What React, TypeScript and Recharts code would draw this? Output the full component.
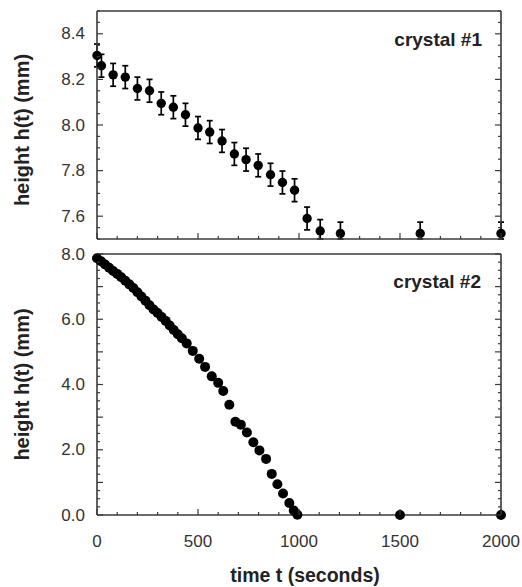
import React from 'react';
import { ScatterChart, Scatter, XAxis, YAxis, ErrorBar, Label } from 'recharts';

// ---- crystal #1 (top panel) ----
const c1Time = [0, 22, 80, 140, 200, 260, 318, 378, 438, 500, 558, 619, 680, 738, 798, 859, 918, 978, 1040, 1105, 1205, 1600, 2000];
const c1Height = [8.305, 8.26, 8.22, 8.21, 8.16, 8.15, 8.095, 8.078, 8.045, 7.987, 7.969, 7.93, 7.873, 7.848, 7.823, 7.782, 7.748, 7.714, 7.59, 7.535, 7.524, 7.524, 7.524];
const c1ErrLow = [0.05, 0.05, 0.05, 0.05, 0.05, 0.05, 0.05, 0.05, 0.05, 0.05, 0.05, 0.05, 0.05, 0.05, 0.05, 0.05, 0.05, 0.05, 0.05, 0.035, 0.024, 0.024, 0.024];
const c1ErrHigh = [0.05, 0.05, 0.05, 0.05, 0.05, 0.05, 0.05, 0.05, 0.05, 0.05, 0.05, 0.05, 0.05, 0.05, 0.05, 0.05, 0.05, 0.05, 0.05, 0.05, 0.05, 0.05, 0.05];

// ---- crystal #2 (bottom panel) ----
const c2Time = [0, 20, 40, 60, 80, 100, 120, 140, 160, 180, 200, 220, 240, 260, 280, 300, 320, 340, 360, 380, 400, 420, 444, 474, 506, 535, 568, 600, 625, 655, 685, 712, 742, 774, 804, 837, 865, 893, 921, 952, 974, 992, 1500, 2000];
const c2Height = [7.87, 7.78, 7.68, 7.58, 7.48, 7.39, 7.29, 7.18, 7.07, 6.96, 6.83, 6.7, 6.57, 6.43, 6.3, 6.19, 6.07, 5.95, 5.81, 5.67, 5.54, 5.42, 5.26, 5.03, 4.79, 4.54, 4.25, 4.05, 3.8, 3.38, 2.86, 2.77, 2.53, 2.23, 1.98, 1.72, 1.26, 0.94, 0.66, 0.37, 0.14, 0.01, 0, 0];

// ---- ticks ----
const xTickLabels = [0, 500, 1000, 1500, 2000];
const y1TickLabels = [7.6, 7.8, 8.0, 8.2, 8.4];
const y2TickLabels = [0, 2, 4, 6, 8];

const range = (a: number, b: number, s: number) => {
  const out: number[] = [];
  const n = Math.round((b - a) / s);
  for (let i = 0; i <= n; i++) out.push(Math.round((a + i * s) * 1000) / 1000);
  return out;
};
const xMinor = range(0, 2000, 100);
const y1Minor = range(7.5, 8.5, 0.05);
const y2Minor = range(0, 8, 0.25);
const y2Major = range(0, 8, 1);

const data1 = c1Time.map((t, i) => ({ t, h: c1Height[i], err: [c1ErrLow[i], c1ErrHigh[i]] }));
const data2 = c2Time.map((t, i) => ({ t, h: c2Height[i] }));

const FRAME = '#3a3a3a';
const FONT = '"Liberation Sans", Arial, Helvetica, sans-serif';
const TICK_COLOR = '#333';

const isIn = (v: number, arr: number[]) => arr.some((a) => Math.abs(a - v) < 1e-6);

function makeTick(side: 'bottom' | 'top' | 'left' | 'right', majors: number[], labels: number[] | null, fmt: (v: number) => string) {
  return (props: any) => {
    const { x, y, payload } = props;
    const v = payload.value;
    const len = isIn(v, majors) ? 6 : 3;
    let x2 = x, y2 = y;
    if (side === 'bottom') y2 = y - len;
    if (side === 'top') y2 = y + len;
    if (side === 'left') x2 = x + len;
    if (side === 'right') x2 = x - len;
    let label = null;
    if (labels && isIn(v, labels)) {
      if (side === 'bottom') {
        label = (
          <text x={x} y={y + 26} textAnchor="middle" dominantBaseline="central" fontSize={17} fill={TICK_COLOR} fontFamily={FONT}>
            {fmt(v)}
          </text>
        );
      } else if (side === 'left') {
        label = (
          <text x={x - 12} y={y} textAnchor="end" dominantBaseline="central" fontSize={17} fill={TICK_COLOR} fontFamily={FONT}>
            {fmt(v)}
          </text>
        );
      }
    }
    return (
      <g>
        <line x1={x} y1={y} x2={x2} y2={y2} stroke={FRAME} strokeWidth={1.2} />
        {label}
      </g>
    );
  };
}

const axisLine = { stroke: FRAME, strokeWidth: 1.6 };

const Dot1 = (p: any) => <circle cx={p.cx} cy={p.cy} r={4.7} fill="#000" />;
const Dot2 = (p: any) => <circle cx={p.cx} cy={p.cy} r={5} fill="#000" />;

const yTitle = (cy: number) => (props: any) => (
  <text
    x={22}
    y={cy}
    transform={`rotate(-90, 22, ${cy})`}
    textAnchor="middle"
    dominantBaseline="central"
    fontSize={20}
    fontWeight="bold"
    fill="#222"
    fontFamily={FONT}
  >
    height h(t) (mm)
  </text>
);

const panelTitle = (text: string, x: number, y: number) => (props: any) => (
  <text x={x} y={y} textAnchor="end" fontSize={19} fontWeight="bold" fill="#222" fontFamily={FONT}>
    {text}
  </text>
);

const xTitle = (props: any) => (
  <text x={305} y={325} textAnchor="middle" dominantBaseline="central" fontSize={19.5} fontWeight="bold" fill="#222" fontFamily={FONT}>
    time t (seconds)
  </text>
);

export default function App() {
  return (
    <div style={{ position: 'absolute', left: 0, top: 0, width: 522, height: 587, background: '#fff' }}>
      <style>{`svg { overflow: visible; }`}</style>
      <div style={{ position: 'absolute', left: 0, top: 0 }}>
        <ScatterChart width={522} height={250} margin={{ top: 0, right: 0, bottom: 0, left: 0 }}>
          <XAxis
            xAxisId="b"
            dataKey="t"
            type="number"
            domain={[0, 2000]}
            ticks={xMinor}
            interval={0}
            height={11}
            tickSize={0}
            tickMargin={0}
            tickLine={false}
            axisLine={axisLine}
            tick={makeTick('bottom', xTickLabels, null, (v) => String(v))}
          />
          <XAxis
            xAxisId="t"
            orientation="top"
            type="number"
            domain={[0, 2000]}
            allowDataOverflow
            ticks={xMinor}
            interval={0}
            height={11}
            tickSize={0}
            tickMargin={0}
            tickLine={false}
            axisLine={axisLine}
            tick={makeTick('top', xTickLabels, null, (v) => String(v))}
          />
          <YAxis
            yAxisId="l"
            dataKey="h"
            type="number"
            domain={[7.5, 8.5]}
            ticks={y1Minor}
            interval={0}
            width={97}
            tickSize={0}
            tickMargin={0}
            tickLine={false}
            axisLine={axisLine}
            tick={makeTick('left', y1TickLabels, y1TickLabels, (v) => v.toFixed(1))}
          >
            <Label content={yTitle(130)} />
          </YAxis>
          <YAxis
            yAxisId="r"
            orientation="right"
            type="number"
            domain={[7.5, 8.5]}
            allowDataOverflow
            ticks={y1Minor}
            interval={0}
            width={21}
            tickSize={0}
            tickMargin={0}
            tickLine={false}
            axisLine={axisLine}
            tick={makeTick('right', y1TickLabels, null, (v) => v.toFixed(1))}
          >
            <Label content={panelTitle('crystal #1', 482, 46)} />
          </YAxis>
          <Scatter data={data1} xAxisId="b" yAxisId="l" fill="#000" shape={Dot1} isAnimationActive={false}>
            <ErrorBar dataKey="err" direction="y" width={3} stroke="#000" strokeWidth={1.7} isAnimationActive={false} />
          </Scatter>
        </ScatterChart>
      </div>
      <div style={{ position: 'absolute', left: 0, top: 250 }}>
        <ScatterChart width={522} height={337} margin={{ top: 0, right: 0, bottom: 0, left: 0 }}>
          <XAxis
            xAxisId="b"
            dataKey="t"
            type="number"
            domain={[0, 2000]}
            ticks={xMinor}
            interval={0}
            height={72}
            tickSize={0}
            tickMargin={0}
            tickLine={false}
            axisLine={axisLine}
            tick={makeTick('bottom', xTickLabels, xTickLabels, (v) => String(v))}
          >
            <Label content={xTitle} />
          </XAxis>
          <XAxis
            xAxisId="t"
            orientation="top"
            type="number"
            domain={[0, 2000]}
            allowDataOverflow
            ticks={xMinor}
            interval={0}
            height={4}
            tickSize={0}
            tickMargin={0}
            tickLine={false}
            axisLine={axisLine}
            tick={makeTick('top', xTickLabels, null, (v) => String(v))}
          />
          <YAxis
            yAxisId="l"
            dataKey="h"
            type="number"
            domain={[0, 8]}
            ticks={y2Minor}
            interval={0}
            width={97}
            tickSize={0}
            tickMargin={0}
            tickLine={false}
            axisLine={axisLine}
            tick={makeTick('left', y2Major, y2TickLabels, (v) => v.toFixed(1))}
          >
            <Label content={yTitle(134.5)} />
          </YAxis>
          <YAxis
            yAxisId="r"
            orientation="right"
            type="number"
            domain={[0, 8]}
            allowDataOverflow
            ticks={y2Minor}
            interval={0}
            width={21}
            tickSize={0}
            tickMargin={0}
            tickLine={false}
            axisLine={axisLine}
            tick={makeTick('right', y2Major, null, (v) => v.toFixed(1))}
          >
            <Label content={panelTitle('crystal #2', 481, 38)} />
          </YAxis>
          <Scatter data={data2} xAxisId="b" yAxisId="l" fill="#000" shape={Dot2} isAnimationActive={false} />
        </ScatterChart>
      </div>
    </div>
  );
}
